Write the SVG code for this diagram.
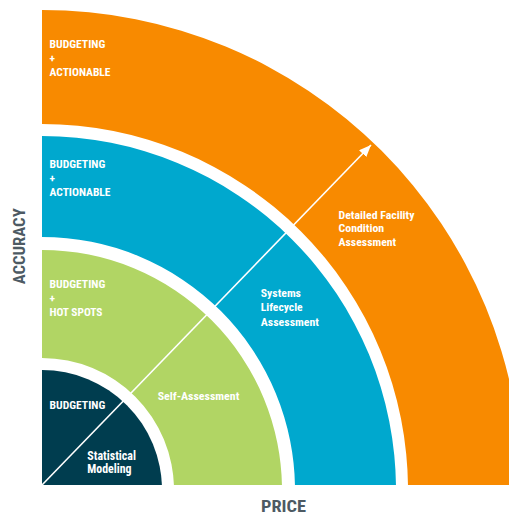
<svg xmlns="http://www.w3.org/2000/svg" width="509" height="515" viewBox="0 0 509 515">
<style>
.t{font-family:"Liberation Sans Narrow","Roboto Condensed","Liberation Sans",Arial,sans-serif;font-weight:bold;font-size:11.5px;fill:#ffffff}
.t2{font-size:12px}
.ax{font-family:"Liberation Sans Narrow","Roboto Condensed","Liberation Sans",Arial,sans-serif;font-weight:bold;font-size:16px;fill:#4d5a63}
</style>
<defs>
<clipPath id="clip"><rect x="42" y="0" width="467" height="485"/></clipPath>
<marker id="ah" viewBox="0 0 12 10" refX="12" refY="5" markerWidth="12" markerHeight="10" markerUnits="userSpaceOnUse" orient="auto">
<path d="M0,0 L12,5 L0,10 Z" fill="#ffffff"/>
</marker>
</defs>
<g clip-path="url(#clip)">
<g id="ring-orange"><path d="M522,490 A480,480 0 0 0 42,10 L42,124 A366,366 0 0 1 408,490 Z" fill="#f88a00"/>
<text class="t" x="49.5" y="48" textLength="55.7" lengthAdjust="spacingAndGlyphs">BUDGETING</text>
<text class="t" x="49.5" y="62">+</text>
<text class="t" x="49.5" y="76" textLength="61" lengthAdjust="spacingAndGlyphs">ACTIONABLE</text>
<text class="t" x="338.5" y="219" textLength="76" lengthAdjust="spacingAndGlyphs">Detailed Facility</text>
<text class="t" x="338.5" y="232" textLength="45.7" lengthAdjust="spacingAndGlyphs">Condition</text>
<text class="t" x="338.5" y="245.5" textLength="57.7" lengthAdjust="spacingAndGlyphs">Assessment</text>
</g>
<g id="ring-blue"><path d="M396,490 A354,354 0 0 0 42,136 L42,237 A253,253 0 0 1 295,490 Z" fill="#00a8ce"/>
<text class="t" x="49.5" y="168" textLength="55.7" lengthAdjust="spacingAndGlyphs">BUDGETING</text>
<text class="t" x="49.5" y="182">+</text>
<text class="t" x="49.5" y="196" textLength="61" lengthAdjust="spacingAndGlyphs">ACTIONABLE</text>
<text class="t" x="260.7" y="297" textLength="40.3" lengthAdjust="spacingAndGlyphs">Systems</text>
<text class="t" x="260.7" y="311" textLength="42" lengthAdjust="spacingAndGlyphs">Lifecycle</text>
<text class="t" x="260.7" y="326" textLength="58.3" lengthAdjust="spacingAndGlyphs">Assessment</text>
</g>
<g id="ring-green"><path d="M282,490 A240,240 0 0 0 42,250 L42,358 A132,132 0 0 1 174,490 Z" fill="#b1d564"/>
<text class="t" x="49.5" y="288" textLength="55.7" lengthAdjust="spacingAndGlyphs">BUDGETING</text>
<text class="t" x="49.5" y="302">+</text>
<text class="t" x="49.5" y="316" textLength="53" lengthAdjust="spacingAndGlyphs">HOT SPOTS</text>
<text class="t" x="157.7" y="399.5" textLength="81.6" lengthAdjust="spacingAndGlyphs">Self-Assessment</text>
</g>
<g id="core-navy"><path d="M42,490 L162,490 A120,120 0 0 0 42,370 Z" fill="#003d4f"/>
<text class="t" x="49.5" y="409" textLength="55.7" lengthAdjust="spacingAndGlyphs">BUDGETING</text>
<text class="t t2" x="87.3" y="460" textLength="48.7" lengthAdjust="spacingAndGlyphs">Statistical</text>
<text class="t t2" x="87.3" y="473" textLength="44.3" lengthAdjust="spacingAndGlyphs">Modeling</text>
</g>
</g>
<g id="connectors">
<line x1="42" y1="485" x2="371" y2="145" stroke="#ffffff" stroke-width="1.6" marker-end="url(#ah)"/>
</g>
<g id="axes">
<text class="ax" x="0" y="0" transform="translate(24.5,246.3) rotate(-90)" text-anchor="middle" textLength="76" lengthAdjust="spacingAndGlyphs">ACCURACY</text>
<text class="ax" x="261" y="512.3" textLength="45" lengthAdjust="spacingAndGlyphs">PRICE</text>
</g>
</svg>
